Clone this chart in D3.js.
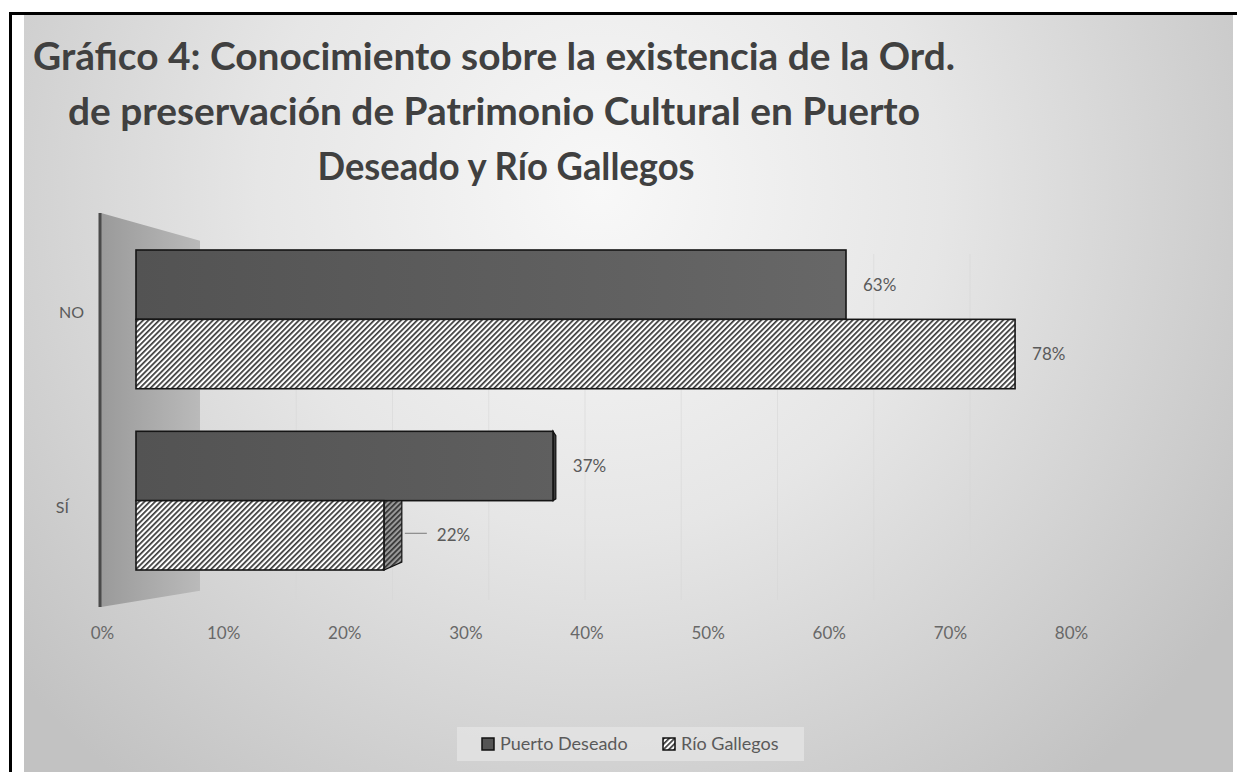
<!DOCTYPE html>
<html>
<head>
<meta charset="utf-8">
<script src="https://cdn.jsdelivr.net/npm/d3@7"></script>
<style>
  html, body { margin: 0; padding: 0; background: #ffffff; }
  svg { display: block; }
</style>
</head>
<body>
<script>
// ---- data ----
const categories = ["NO", "SÍ"];
const seriesNames = ["Puerto Deseado", "Río Gallegos"];
const puertoDeseado = [0.63, 0.37];
const rioGallegos = [0.78, 0.22];
const tickValues = [0, 0.1, 0.2, 0.3, 0.4, 0.5, 0.6, 0.7, 0.8];
const titleLines = [
  "Gráfico 4: Conocimiento sobre la existencia de la Ord.",
  "de preservación de Patrimonio Cultural en Puerto",
  "Deseado y Río Gallegos"
];

const W = 1237, H = 772;
const FONT = "Lato, 'Open Sans', sans-serif";
const TEXT = "#5a5a5a";

const svg = d3.select("body").append("svg")
  .attr("width", W).attr("height", H);

const defs = svg.append("defs");

// background glow of the chart area
const bg = defs.append("radialGradient").attr("id", "bgGrad")
  .attr("gradientUnits", "userSpaceOnUse")
  .attr("cx", 600).attr("cy", 190).attr("r", 760);
bg.append("stop").attr("offset", 0).attr("stop-color", "#f8f8f8");
bg.append("stop").attr("offset", 0.45).attr("stop-color", "#e6e6e6");
bg.append("stop").attr("offset", 1).attr("stop-color", "#c2c2c2");

// side wall shading
const wallGrad = defs.append("linearGradient").attr("id", "wallGrad")
  .attr("x1", 0).attr("x2", 1).attr("y1", 0).attr("y2", 0);
wallGrad.append("stop").attr("offset", 0).attr("stop-color", "#9a9a9a");
wallGrad.append("stop").attr("offset", 1).attr("stop-color", "#bababa");

// dark series fill
const darkGrad = defs.append("linearGradient").attr("id", "darkGrad")
  .attr("gradientUnits", "userSpaceOnUse")
  .attr("x1", 136).attr("x2", 1015).attr("y1", 0).attr("y2", 0);
darkGrad.append("stop").attr("offset", 0).attr("stop-color", "#535353");
darkGrad.append("stop").attr("offset", 1).attr("stop-color", "#6c6c6c");

// diagonal hatch for the second series
function hatch(id, back, line) {
  const p = defs.append("pattern").attr("id", id)
    .attr("patternUnits", "userSpaceOnUse")
    .attr("width", 3.8).attr("height", 10)
    .attr("patternTransform", "rotate(45)");
  p.append("rect").attr("width", 3.8).attr("height", 10).attr("fill", back);
  p.append("rect").attr("x", 0).attr("width", 1.7).attr("height", 10).attr("fill", line);
}
hatch("hatch", "#ffffff", "#3a3a3a");
hatch("hatchSide", "#9a9a9a", "#333333");

// ---- frame ----
svg.append("rect").attr("x", 24).attr("y", 15).attr("width", 1209).attr("height", H - 15)
  .attr("fill", "url(#bgGrad)");
svg.append("rect").attr("x", 9).attr("y", 12).attr("width", W - 9).attr("height", 3).attr("fill", "#000");
svg.append("rect").attr("x", 9).attr("y", 12).attr("width", 3).attr("height", H - 12).attr("fill", "#000");

// ---- title ----
const titleWidths = [922, 852, 377];
const titleCenters = [494, 494, 506];
svg.append("g").selectAll("text").data(titleLines).join("text")
  .attr("x", (d, i) => titleCenters[i])
  .attr("y", (d, i) => 70 + i * 55)
  .attr("text-anchor", "middle")
  .attr("font-family", FONT)
  .attr("font-weight", 700)
  .attr("font-size", 38)
  .attr("fill", "#404040")
  .attr("textLength", (d, i) => titleWidths[i])
  .attr("lengthAdjust", "spacingAndGlyphs")
  .text(d => d);

// ---- scales ----
// three depth planes of the 3-D view: front (axis labels), bars, back wall
const xFront = d3.scaleLinear().domain([0, 0.8]).range([102, 1071]);
const xBar = d3.scaleLinear().domain([0, 0.8]).range([136, 1037.6]);
const xBack = d3.scaleLinear().domain([0, 0.8]).range([200, 970]);

const y0 = d3.scaleBand().domain(categories).range([250, 570]).paddingInner(0.235);
const y1 = d3.scaleBand().domain(seriesNames).range([0, y0.bandwidth()]);

// perspective used for the visible side faces of the bars
const vx = 585, vy = 480, depth = 0.911;
const backX = x => vx + (x - vx) * depth;
const backY = y => vy + (y - vy) * depth;

// ---- side wall ----
const wallTop = 213, wallBottom = 607, wallFrontX = 101;
const wallBackX = xBack(0);
svg.append("path")
  .attr("d", `M${wallFrontX},${wallTop}L${wallBackX},${backY(wallTop) + 4}L${wallBackX},${backY(wallBottom) - 5}L${wallFrontX},${wallBottom}Z`)
  .attr("fill", "url(#wallGrad)");
svg.append("line")
  .attr("x1", 100).attr("x2", 100).attr("y1", wallTop).attr("y2", wallBottom)
  .attr("stroke", "#4a4a4a").attr("stroke-width", 3);

// ---- back-wall gridlines ----
svg.append("g").selectAll("line").data(tickValues.slice(1)).join("line")
  .attr("x1", d => xBack(d)).attr("x2", d => xBack(d))
  .attr("y1", 254).attr("y2", 600)
  .attr("stroke", "#d6d6d6").attr("stroke-width", 1).attr("opacity", 0.55);

// ---- bars ----
const rows = [];
categories.forEach((c, i) => {
  rows.push({ cat: c, series: seriesNames[0], value: puertoDeseado[i] });
  rows.push({ cat: c, series: seriesNames[1], value: rioGallegos[i] });
});

const barG = svg.append("g");
// side faces first, so the front faces cover their hidden parts
rows.forEach(d => {
  const xf = xBar(d.value);
  const xb = backX(xf);
  if (xb <= xf + 0.5) return;
  const top = y0(d.cat) + y1(d.series);
  const bot = top + y1.bandwidth();
  barG.append("path")
    .attr("d", `M${xf},${top}L${xb},${backY(top)}L${xb},${backY(bot)}L${xf},${bot}Z`)
    .attr("fill", d.series === seriesNames[0] ? "#3a3a3a" : "url(#hatchSide)")
    .attr("stroke", "#111").attr("stroke-width", 1.2);
});

barG.selectAll("rect.bar").data(rows).join("rect")
  .attr("class", "bar")
  .attr("x", xBar(0))
  .attr("y", d => y0(d.cat) + y1(d.series))
  .attr("width", d => xBar(d.value) - xBar(0))
  .attr("height", y1.bandwidth())
  .attr("fill", d => d.series === seriesNames[0] ? "url(#darkGrad)" : "url(#hatch)")
  .attr("stroke", "#151515")
  .attr("stroke-width", 1.6);

// ---- value labels ----
const fmt = d3.format(".0%");
const labelG = svg.append("g");
rows.forEach(d => {
  const xf = xBar(d.value);
  const edge = Math.max(xf, backX(xf));
  const cy = y0(d.cat) + y1(d.series) + y1.bandwidth() / 2;
  const withLeader = edge > xf + 5;
  if (withLeader) {
    labelG.append("line")
      .attr("x1", edge + 3).attr("x2", edge + 25)
      .attr("y1", cy - 2).attr("y2", cy - 2)
      .attr("stroke", "#8a8a8a").attr("stroke-width", 1.2);
  }
  labelG.append("text")
    .attr("x", edge + (withLeader ? 35 : 17))
    .attr("y", cy)
    .attr("dy", "0.35em")
    .attr("font-family", FONT)
    .attr("font-size", 17)
    .attr("fill", TEXT)
    .text(fmt(d.value));
});

// ---- category labels (on the slanted side wall) ----
const yCat = d3.scalePoint().domain(categories).range([312, 507]);
const xCat = d3.scaleLinear().domain([312, 507]).range([84, 69]);
svg.append("g").selectAll("text").data(categories).join("text")
  .attr("x", d => xCat(yCat(d)))
  .attr("y", d => yCat(d))
  .attr("dy", "0.35em")
  .attr("text-anchor", "end")
  .attr("font-family", FONT)
  .attr("font-size", 16)
  .attr("fill", TEXT)
  .text(d => d);

// ---- value axis ----
const axis = d3.axisBottom(xFront)
  .tickValues(tickValues)
  .tickFormat(d3.format(".0%"))
  .tickSize(0)
  .tickPadding(3);
const axG = svg.append("g").attr("transform", "translate(0,624)").call(axis);
axG.select(".domain").remove();
axG.selectAll("text")
  .attr("font-family", FONT)
  .attr("font-size", 17)
  .attr("fill", "#686868");

// ---- legend ----
const legG = svg.append("g");
legG.append("rect").attr("x", 457).attr("y", 727).attr("width", 347).attr("height", 34)
  .attr("fill", "#e3e3e3").attr("opacity", 0.8);
const legX = [482, 663];
const legItems = legG.selectAll("g.item").data(seriesNames).join("g")
  .attr("class", "item")
  .attr("transform", (d, i) => `translate(${legX[i]},738)`);
legItems.append("rect")
  .attr("width", 12).attr("height", 12)
  .attr("fill", (d, i) => i === 0 ? "#555555" : "url(#hatch)")
  .attr("stroke", "#111").attr("stroke-width", 1.5);
legItems.append("text")
  .attr("x", 18).attr("y", 6).attr("dy", "0.35em")
  .attr("font-family", FONT)
  .attr("font-size", 18)
  .attr("fill", TEXT)
  .text(d => d);
</script>
</body>
</html>
